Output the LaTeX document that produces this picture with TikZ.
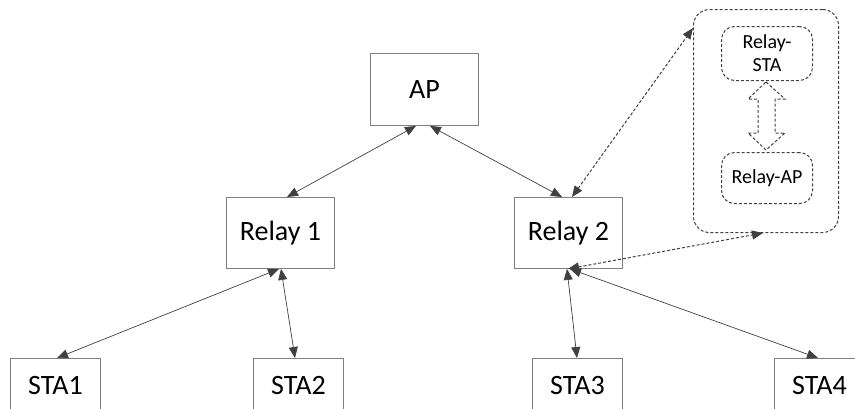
\documentclass[tikz,border=0pt]{standalone}
\usepackage{fontspec}
\setmainfont{Carlito}
\usetikzlibrary{arrows.meta}
\definecolor{boxgray}{HTML}{808080}
\definecolor{arrowgray}{HTML}{404040}
\tikzset{
  box/.style={draw=boxgray, line width=0.9pt, fill=white, inner sep=0pt, anchor=north west, font=\fontsize{28}{30}\selectfont},
  rbox/.style={draw=arrowgray, line width=1pt, dash pattern=on 3pt off 2pt, rounded corners=13pt, inner sep=0pt, anchor=north west, align=center, font=\fontsize{20}{23}\selectfont},
  conn/.style={draw=arrowgray, line width=0.7pt, {Triangle[length=11pt,width=9pt]}-{Triangle[length=11pt,width=9pt]}},
  dconn/.style={conn, dash pattern=on 3pt off 2pt, line width=1pt}
}
\begin{document}
\begin{tikzpicture}[x=1pt,y=-1pt]
\useasboundingbox (0,0) rectangle (855,408);
% outer dashed group
\node[rbox, rounded corners=16pt, minimum width=145pt, minimum height=223pt] (grp) at (693,9) {};
\node[rbox, minimum width=91pt, minimum height=54pt] (rsta) at (721,26) {Relay-\\STA};
\node[rbox, minimum width=91pt, minimum height=51pt] (rap) at (721,152) {Relay-AP};
% hollow double arrow
\draw[draw=arrowgray, line width=1pt, dash pattern=on 3pt off 2pt]
  (766,82) -- (785,99) -- (775,99) -- (775,133) -- (785,133) -- (766,150)
  -- (748,133) -- (758,133) -- (758,99) -- (748,99) -- cycle;
% main boxes
\node[box, minimum width=108pt, minimum height=72pt] (ap) at (370,53) {AP};
\node[box, minimum width=108pt, minimum height=71pt] (r1) at (226,197) {Relay 1};
\node[box, minimum width=108pt, minimum height=71pt] (r2) at (514,197) {Relay 2};
\node[box, minimum width=90pt, minimum height=54pt] (s1) at (10,358) {STA1};
\node[box, minimum width=90pt, minimum height=54pt] (s2) at (253,358) {STA2};
\node[box, minimum width=90pt, minimum height=54pt] (s3) at (532,358) {STA3};
\node[box, minimum width=90pt, minimum height=54pt] (s4) at (774,358) {STA4};
% connectors
\draw[conn] ([xshift=46pt]ap.south west) -- ([xshift=61pt]r1.north west);
\draw[conn] ([xshift=60pt]ap.south west) -- ([xshift=48pt]r2.north west);
\draw[conn] ([xshift=53pt]r1.south west) -- ([xshift=47pt]s1.north west);
\draw[conn] ([xshift=55pt]r1.south west) -- ([xshift=42pt]s2.north west);
\draw[conn] ([xshift=53pt]r2.south west) -- ([xshift=45pt]s3.north west);
\draw[conn] ([xshift=56pt]r2.south west) -- ([xshift=44pt]s4.north west);
\draw[dconn] ([xshift=58pt]r2.north west) -- ([yshift=-19pt]grp.north west);
\draw[dconn] ([xshift=54pt]r2.south west) -- ([xshift=70pt]grp.south west);
\end{tikzpicture}
\end{document}
